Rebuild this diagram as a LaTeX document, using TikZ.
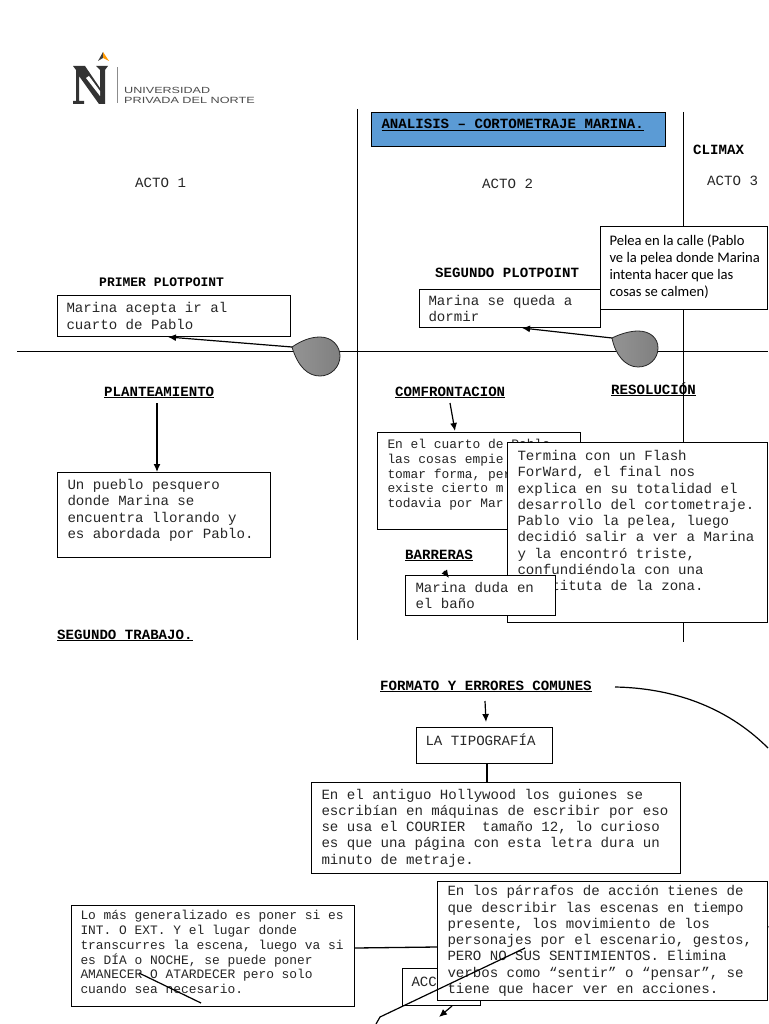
\documentclass[tikz,border=0pt]{standalone}
\usepackage{fontspec}
\setmainfont{Liberation Sans}
\setmonofont{Liberation Mono}
\newfontfamily\calibri{Carlito}
\usetikzlibrary{arrows.meta}

\newcommand{\pie}[1]{\rule[-#1]{0pt}{#1}}
\newcommand{\rotulo}[1]{\underline{#1}}

\begin{document}
\begin{tikzpicture}[x=1pt, y=-1pt]
	\tikzset{
		caja/.style={draw=black, line width=1pt, fill=white, anchor=north west, align=flush left, inner xsep=10pt, inner ysep=0pt, text=black!85, font=\ttfamily\fontsize{14.1}{16.3}\selectfont},
		cajita/.style={caja, font=\ttfamily\fontsize{12.9}{14.8}\selectfont},
		acto/.style={anchor=base west, inner sep=0pt, text=black!85, font=\ttfamily\fontsize{14.1}{16.3}\selectfont},
		titulo/.style={anchor=base west, inner sep=0pt, font=\ttfamily\bfseries\fontsize{14.1}{16.3}\selectfont},
		linea/.style={line width=1pt},
		flecha/.style={line width=1.2pt, -{Latex[length=8pt, width=7pt]}},
		gota/.style={draw=black!85, line width=0.8pt, left color=black!42, right color=black!50},
		marca/.style={anchor=base west, inner sep=0pt, text=black!70, font=\fontsize{9}{10}\selectfont}
	};

	\useasboundingbox (0, 0) rectangle (768, 1024);
	\fill[white] (0, 0) rectangle (768, 1024);

	% logo
	\fill[black!80] (73, 66) -- (85, 66) -- (100, 88) -- (100, 70) -- (96, 66) -- (108, 66) -- (105, 70) -- (105, 104) -- (99, 104) -- (79, 76) -- (79, 101) -- (84, 101) -- (84, 104) -- (73, 104) -- (73, 101) -- (76, 101) -- (76, 70) -- cycle;
	\fill[white] (86, 78) -- (100, 96) -- (100, 91) -- (89, 76) -- cycle;
	\fill[black!75] (103, 52) -- (103, 58) -- (98, 61) -- cycle;
	\fill[orange!80!yellow] (103, 52) -- (109, 61) -- (103, 58) -- cycle;
	\fill[black!45] (117, 67) rectangle (118, 103);
	\node[marca] (uni) at (124, 94) {\scalebox{1.41}[1]{U\fontsize{8.9}{10}\selectfont NIVERSIDAD}};
	\node[marca] (pri) at (124, 104) {\scalebox{1.41}[1]{PRIVADA DEL NORTE}};

	% lineas de los actos
	\coordinate (v1a) at (357, 109);
	\coordinate (v1b) at (357, 640);
	\coordinate (v2a) at (683, 112);
	\coordinate (v2b) at (683, 642);
	\coordinate (h1a) at (17, 351);
	\coordinate (h1b) at (768, 351);
	\draw[linea] (v1a) to (v1b);
	\draw[linea] (v2a) to (v2b);
	\draw[linea] (h1a) to (h1b);

	\node[caja, fill={rgb,255:red,91;green,155;blue,213}, text width=274pt, minimum height=34pt, font=\ttfamily\bfseries\fontsize{14.1}{16.3}\selectfont, text=black] (analisis) at (371, 112) {\rotulo{ANALISIS – CORTOMETRAJE MARINA.}\pie{12pt}};

	\node[acto] (acto1) at (135, 188) {ACTO 1};
	\node[acto] (acto2) at (482, 189) {ACTO 2};
	\node[acto] (acto3) at (707, 186) {ACTO 3};
	\node[titulo] (climax) at (693, 155) {CLIMAX};

	\node[titulo, font=\ttfamily\bfseries\fontsize{13}{15}\selectfont] (primer) at (99, 286) {PRIMER PLOTPOINT};
	\node[titulo] (segundo) at (435, 277) {SEGUNDO PLOTPOINT};

	\node[caja, inner xsep=9pt, text width=215pt, minimum height=41pt] (acepta) at (57, 295) {Marina acepta ir al\\cuarto de Pablo};
	\node[caja, inner xsep=9pt, text width=163pt, minimum height=38pt] (queda) at (419, 289) {Marina se queda a\\dormir};
	\node[caja, inner xsep=9pt, text width=149pt, minimum height=83pt, font=\calibri\fontsize{14.6}{17}\selectfont, text=black] (pelea) at (600, 226) {Pelea en la calle (Pablo\\\mbox{ve la pelea donde Marina}\\intenta hacer que las\\cosas se calmen)\pie{4pt}};

	% gotas
	\coordinate (tip1) at (292, 347);
	\coordinate (tip2) at (612, 338);
	\draw[gota] (tip1) .. controls (301, 341) and (310, 337) .. (320, 337) .. controls (332, 337) and (340, 346) .. (340, 356) .. controls (340, 367) and (331, 376) .. (320, 376) .. controls (308, 376) and (298, 367) .. cycle;
	\draw[gota] (tip2) .. controls (620, 334) and (630, 331) .. (638, 331) .. controls (650, 331) and (658, 338) .. (658, 348) .. controls (658, 359) and (649, 367) .. (638, 367) .. controls (625, 367) and (615, 354) .. cycle;
	\coordinate (a1) at (168, 337);
	\coordinate (a2) at (522, 328);
	\draw[flecha] (tip1) to (a1);
	\draw[flecha] (tip2) to (a2);

	\node[titulo] (plant) at (104, 396) {\rotulo{PLANTEAMIENTO}};
	\node[titulo] (comf) at (395, 396) {\rotulo{COMFRONTACION}};
	\node[titulo] (reso) at (611, 394) {\rotulo{RESOLUCIÓN}};
	\node[titulo] (barr) at (405, 559) {\rotulo{BARRERAS}};
	\node[titulo] (trab) at (57, 639) {\rotulo{SEGUNDO TRABAJO.}};

	\node[caja, text width=193pt, minimum height=85pt] (pueblo) at (57, 472) {Un pueblo pesquero\\donde Marina se\\encuentra llorando y\\es abordada por Pablo.\pie{12pt}};
	\node[cajita, text width=183pt, minimum height=97pt] (cuarto) at (377, 432) {En el cuarto de Pablo\\las cosas empie\\tomar forma, per\\existe cierto m\\todavia por Mar\pie{15pt}};
	\node[caja, text width=240pt, minimum height=180pt] (termina) at (507, 442) {Termina con un Flash\\ForWard, el final nos\\explica en su totalidad el\\desarrollo del cortometraje.\\Pablo vio la pelea, luego\\decidió salir a ver a Marina\\y la encontró triste,\\confundiéndola con una\\prostituta de la zona.\pie{24pt}};
	\node[caja, text width=130pt, minimum height=40pt] (duda) at (405, 575) {Marina duda en\\el baño};

	\coordinate (p1) at (157, 403);
	\coordinate (c1) at (450, 403);
	\coordinate (b1) at (444, 571);
	\draw[flecha] (p1) to (pueblo.north west -| p1);
	\draw[flecha] (c1) to (455, 431);
	\draw[flecha] (b1) to (449, 578);

	% parte de abajo
	\node[titulo] (formato) at (380, 690) {\rotulo{FORMATO Y ERRORES COMUNES}};
	\node[caja, inner xsep=9pt, text width=118pt, minimum height=36pt] (tipo) at (416, 727) {LA TIPOGRAFÍA\pie{12pt}};
	\node[caja, inner xsep=10pt, text width=349pt, minimum height=91pt] (holly) at (311, 782) {En el antiguo Hollywood los guiones se\\escribían en máquinas de escribir por eso\\se usa el COURIER~ tamaño 12, lo curioso\\es que una página con esta letra dura un\\minuto de metraje.};
	\coordinate (f1) at (485, 701);
	\coordinate (f2) at (486, 722);
	\draw[flecha] (f1) to (f2);
	\draw[line width=1.3pt] (tipo.south -| 487, 0) to (holly.north -| 487, 0);

	\coordinate (arco1) at (615, 687);
	\coordinate (arco2) at (768, 748);
	\draw[line width=1.2pt] (arco1) .. controls (670, 688) and (725, 705) .. (arco2);
	\coordinate (arco3) at (768, 926);
	\coordinate (arco4) at (765, 936);
	\draw[line width=1.2pt] (arco3) to (arco4);

	\node[caja, inner xsep=9pt, minimum height=37pt, text width=60pt] (accion) at (402, 968) {ACC\pie{10pt}};
	\node[cajita, inner xsep=9pt, text width=265pt, minimum height=101pt] (general) at (71, 905) {Lo más generalizado es poner si es\\INT. O EXT. Y el lugar donde\\transcurres la escena, luego va si\\es DÍA o NOCHE, se puede poner\\AMANECER O ATARDECER pero solo\\cuando sea necesario.\pie{8pt}};
	\node[caja, text width=310pt, minimum height=119pt] (parrafos) at (437, 881) {En los párrafos de acción tienes de\\que describir las escenas en tiempo\\presente, los movimiento de los\\personajes por el escenario, gestos,\\PERO NO SUS SENTIMIENTOS. Elimina\\verbos como “sentir” o “pensar”, se\\tiene que hacer ver en acciones.};

	\draw[line width=1.3pt] (general.east |- 0, 948) to (parrafos.west |- 0, 947);
	\coordinate (r1) at (525, 948);
	\coordinate (r2) at (380, 1017);
	\coordinate (r3) at (376, 1024);
	\draw[line width=1.2pt] (r1) to (r2) to (r3);
	\coordinate (s1) at (139, 973);
	\coordinate (s2) at (201, 1003);
	\draw[line width=1.2pt] (s1) to (s2);
	\coordinate (t1) at (452, 1006);
	\coordinate (t2) at (439, 1017);
	\draw[flecha] (t1) to (t2);
\end{tikzpicture}
\end{document}
